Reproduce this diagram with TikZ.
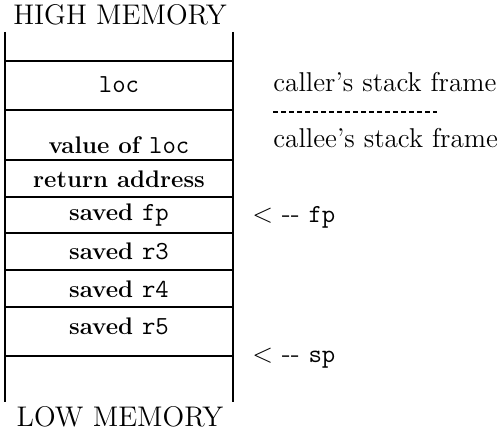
\documentclass[tikz,border=0pt]{standalone}
\usepackage{fontspec}
\usetikzlibrary{positioning}
\newcommand{\code}[1]{{\mdseries\ttfamily\fontsize{13}{15}\selectfont #1}}

\begin{document}
\begin{tikzpicture}[
    x=0.5pt, y=-0.5pt,
    wall/.style={line width=0.8pt},
    cell/.style={font=\fontsize{12}{14}\selectfont\bfseries, inner sep=0pt},
    heading/.style={font=\fontsize{14.2}{16}\selectfont, inner sep=0pt},
    note/.style={font=\fontsize{13.6}{15}\selectfont, inner sep=0pt, anchor=west},
]
\path[use as bounding box] (0,0) rectangle (497,431);

% stack walls and slot boundaries
\coordinate (tl) at (5,32);
\coordinate (bl) at (5,402);
\coordinate (tr) at (233,32);
\coordinate (br) at (233,402);
\draw[wall] (tl) -- (bl);
\draw[wall] (tr) -- (br);
\foreach \y in {61,110,160,197,233,270,307,356}
    \draw[wall] (5,\y) -- (233,\y);

\node[heading] (high) at (120,15) {HIGH MEMORY};
\node[heading] (low) at (120,417) {LOW MEMORY};

\node[cell] (loc) at (119,85) {\code{loc}};
\node[cell] (value) at (119,145) {value of \code{loc}};
\node[cell] (ret) at (119,179) {return address};
\node[cell] (savedfp) at (119,215) {saved \code{fp}};
\node[cell] (savedr3) at (119,251) {saved \code{r3}};
\node[cell] (savedr4) at (119,289) {saved \code{r4}};
\node[cell] (savedr5) at (119,326) {saved \code{r5}};

\node[note] (caller) at (273,82) {caller's stack frame};
\node[note] (callee) at (273,138) {callee's stack frame};
\coordinate (sepl) at (273,112);
\coordinate (sepr) at (437,112);
\draw[line width=0.6pt, dash pattern=on 2.4pt off 1.6pt] (sepl) -- (sepr);

\node[note] (fp) at (252,217) {< -{}- \code{fp}};
\node[note] (sp) at (252,358) {< -{}- \code{sp}};

\end{tikzpicture}
\end{document}
